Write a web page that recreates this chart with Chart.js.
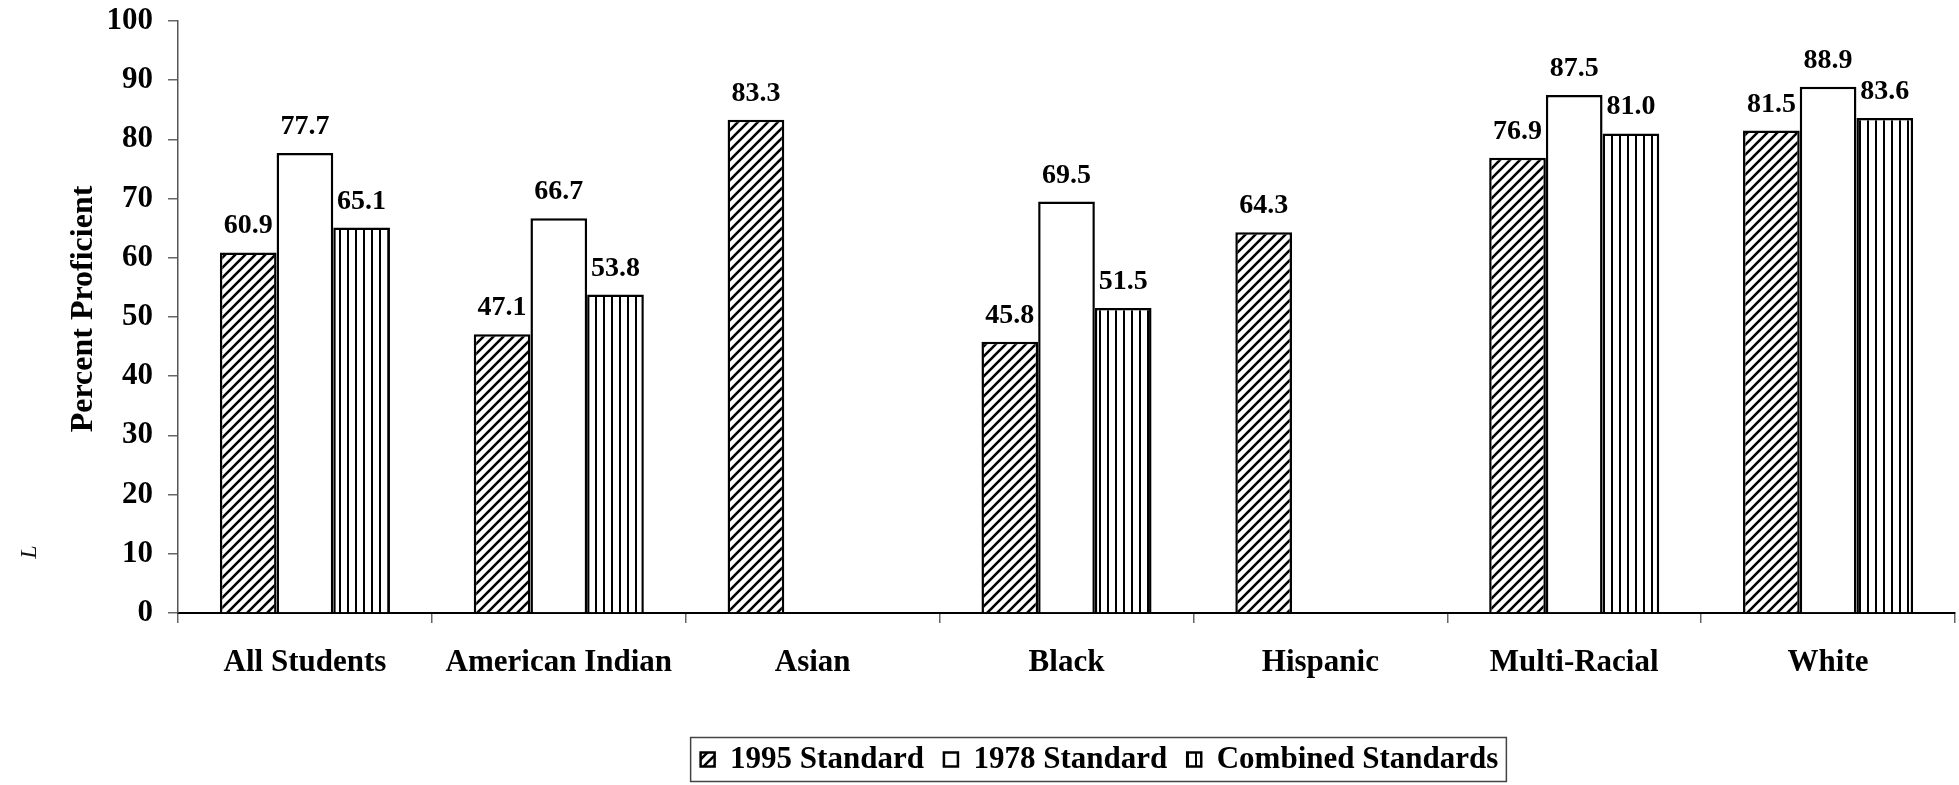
<!DOCTYPE html>
<html>
<head>
<meta charset="utf-8">
<script src="https://cdn.jsdelivr.net/npm/chart.js@4.4.1/dist/chart.umd.min.js"></script>
<style>
  html, body { margin: 0; padding: 0; background: #fff; }
  #wrap { width: 1959px; height: 785px; }
</style>
</head>
<body>
<div id="wrap"><canvas id="chart" width="1959" height="785"></canvas></div>
<script>
// data
const groups = ["All Students", "American Indian", "Asian", "Black", "Hispanic", "Multi-Racial", "White"];
const std1995 = [60.9, 47.1, 83.3, 45.8, 64.3, 76.9, 81.5];
const std1978 = [77.7, 66.7, null, 69.5, null, 87.5, 88.9];
const combined = [65.1, 53.8, null, 51.5, null, 81.0, 83.6];
const seriesNames = ["1995 Standard", "1978 Standard", "Combined Standards"];
const yTicks = [0, 10, 20, 30, 40, 50, 60, 70, 80, 90, 100];

const serif = "'Liberation Serif', 'Times New Roman', serif";

// hatch fills
function diagonalPattern() {
  const c = document.createElement("canvas");
  c.width = 10; c.height = 10;
  const g = c.getContext("2d");
  g.fillStyle = "#fff";
  g.fillRect(0, 0, 10, 10);
  g.strokeStyle = "#000";
  g.lineWidth = 2.6;
  g.beginPath();
  g.moveTo(-2, 12); g.lineTo(12, -2);
  g.moveTo(-2, 2); g.lineTo(2, -2);
  g.moveTo(8, 12); g.lineTo(12, 8);
  g.stroke();
  return g.createPattern(c, "repeat");
}
function verticalPattern() {
  const c = document.createElement("canvas");
  c.width = 8; c.height = 8;
  const g = c.getContext("2d");
  g.fillStyle = "#fff";
  g.fillRect(0, 0, 8, 8);
  g.fillStyle = "#000";
  g.fillRect(3, 0, 2, 8);
  return g.createPattern(c, "repeat");
}

// values above bars
const valueLabels = {
  id: "valueLabels",
  afterDatasetsDraw(chart) {
    const ctx = chart.ctx;
    ctx.save();
    ctx.font = "bold 28px " + serif;
    ctx.fillStyle = "#000";
    ctx.textAlign = "center";
    ctx.textBaseline = "alphabetic";
    chart.data.datasets.forEach((ds, i) => {
      chart.getDatasetMeta(i).data.forEach((bar, j) => {
        const v = ds.data[j];
        if (v == null) return;
        ctx.fillText(v.toFixed(1), bar.x, bar.y - 19);
      });
    });
    ctx.restore();
  }
};

// legend sits right of centre in the original
const legendShift = 122;

const extras = {
  id: "extras",
  beforeDraw(chart) {
    const lg = chart.legend;
    if (!lg._shifted) {
      // adjustHitBoxes adds the offsets again, so keep the tops
      const tops = lg.legendHitBoxes.map(b => b.top);
      lg.left += legendShift;
      lg.right += legendShift;
      lg.adjustHitBoxes();
      lg.legendHitBoxes.forEach((b, i) => { b.top = tops[i]; });
      lg._shifted = true;
    }
  },
  afterDraw(chart) {
    const ctx = chart.ctx;
    const boxes = chart.legend.legendHitBoxes;
    if (boxes && boxes.length) {
      const l = Math.min(...boxes.map(b => b.left));
      const r = Math.max(...boxes.map(b => b.left + b.width));
      const cy = boxes[0].top + boxes[0].height / 2;
      ctx.save();
      ctx.strokeStyle = "#444";
      ctx.lineWidth = 1.5;
      ctx.strokeRect(l - 10, cy - 22, r - l + 18, 44);
      ctx.restore();
    }
    // small stray mark left of the axis title
    ctx.save();
    ctx.translate(30, 552);
    ctx.rotate(-Math.PI / 2);
    ctx.font = "italic 24px " + serif;
    ctx.fillStyle = "#111";
    ctx.textAlign = "center";
    ctx.textBaseline = "middle";
    ctx.fillText("L", 0, 0);
    ctx.restore();
  }
};

const fills = [diagonalPattern(), "#fff", verticalPattern()];
const values = [std1995, std1978, combined];

new Chart(document.getElementById("chart"), {
  type: "bar",
  data: {
    labels: groups,
    datasets: seriesNames.map((name, i) => ({
      label: name,
      data: values[i],
      backgroundColor: fills[i],
      borderColor: "#000",
      borderWidth: 2.5,
      borderSkipped: "bottom",
      categoryPercentage: 0.67,
      barPercentage: 1.0
    }))
  },
  options: {
    responsive: false,
    animation: false,
    events: [],
    layout: { padding: { left: 0, right: 4, top: 0, bottom: 0 } },
    scales: {
      x: {
        grid: { drawOnChartArea: false, drawTicks: true, tickLength: 10, color: "#666", lineWidth: 1.5 },
        border: { color: "#000", width: 2 },
        ticks: { color: "#000", padding: 21, font: { family: serif, size: 31, weight: "bold" } },
        afterFit: s => { s.height = 111; }
      },
      y: {
        min: 0, max: 100,
        afterBuildTicks: s => { s.ticks = yTicks.map(v => ({ value: v })); },
        grid: { drawOnChartArea: false, drawTicks: true, tickLength: 10, color: "#666", lineWidth: 1.5 },
        border: { color: "#555", width: 1.5 },
        ticks: { color: "#000", padding: 15, font: { family: serif, size: 31, weight: "bold" } },
        title: {
          display: true,
          text: "  Percent Proficient",
          color: "#000",
          padding: { top: 65, bottom: 0 },
          font: { family: serif, size: 32, weight: "bold" }
        },
        afterFit: s => {
          s.width = 178;
          s.paddingTop = 21;
          s.paddingBottom = 20;
        }
      }
    },
    plugins: {
      legend: {
        position: "bottom",
        labels: {
          color: "#000",
          boxWidth: 14,
          boxHeight: 14,
          padding: 20,
          font: { family: serif, size: 31, weight: "bold" }
        }
      },
      tooltip: { enabled: false }
    }
  },
  plugins: [valueLabels, extras]
});
</script>
</body>
</html>
